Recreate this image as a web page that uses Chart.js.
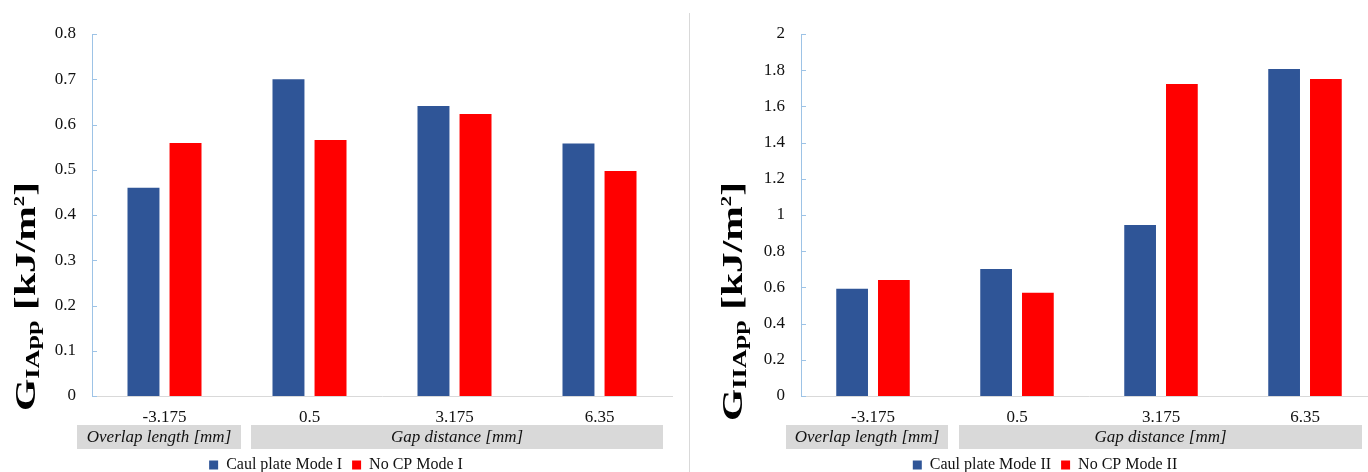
<!DOCTYPE html>
<html>
<head>
<meta charset="utf-8">
<script src="https://cdn.jsdelivr.net/npm/chart.js@4.4.1/dist/chart.umd.min.js"></script>
<style>
  html, body { margin: 0; padding: 0; background: #fff; overflow: hidden; width: 1368px; height: 472px; }
  #wrap { position: relative; width: 1368px; height: 472px; overflow: hidden; }
  #leftBox { position: absolute; left: 0; top: 0; }
  #rightBox { position: absolute; left: 690px; top: 0; }
  #divider { position: absolute; left: 689px; top: 13px; width: 1px; height: 459px; background: #d9d9d9; }
</style>
</head>
<body>
<div id="wrap">
  <div id="leftBox"><canvas id="modeI" width="690" height="483"></canvas></div>
  <div id="divider"></div>
  <div id="rightBox"><canvas id="modeII" width="700" height="483"></canvas></div>
</div>
<script>
// categories and groups (shared by both charts)
var categories = ['-3.175', '0.5', '3.175', '6.35'];
var groupNames = ['Overlap length [mm]', 'Gap distance [mm]'];
var groupFirst = [0, 1];
var groupLast = [0, 3];

// Mode I values, kJ/m2
var modeICaul = [0.46, 0.70, 0.641, 0.558];
var modeINoCP = [0.559, 0.566, 0.623, 0.497];
var modeITicks = ['0', '0.1', '0.2', '0.3', '0.4', '0.5', '0.6', '0.7', '0.8'];

// Mode II values, kJ/m2
var modeIICaul = [0.593, 0.702, 0.945, 1.807];
var modeIINoCP = [0.641, 0.571, 1.724, 1.751];
var modeIITicks = ['0', '0.2', '0.4', '0.6', '0.8', '1', '1.2', '1.4', '1.6', '1.8', '2'];

var BLUE = '#2F5597';
var RED = '#FF0000';
var AXIS_BLUE = '#9DC3E6';
var SERIF = '"Liberation Serif", "Times New Roman", serif';

Chart.defaults.font.family = SERIF;
Chart.defaults.color = '#111';

// y title with sub/superscript, inside tick marks, grey category group boxes
var excelDecor = {
    id: 'excelDecor',
    afterDraw: function(chart, args, opts) {
        var ctx = chart.ctx;
        var area = chart.chartArea;
        var xs = chart.scales.x;
        var ys = chart.scales.y;
        ctx.save();

        // short tick marks pointing into the plot
        ctx.strokeStyle = AXIS_BLUE;
        ctx.lineWidth = 1;
        ys.ticks.forEach(function(t) {
            var py = Math.round(ys.getPixelForValue(t.value)) + 0.5;
            ctx.beginPath();
            ctx.moveTo(area.left, py);
            ctx.lineTo(area.left + 5, py);
            ctx.stroke();
        });

        // group label boxes under the tick labels
        var seg = xs.width / categories.length;
        ctx.font = 'italic 17px ' + SERIF;
        ctx.textAlign = 'center';
        ctx.textBaseline = 'middle';
        for (var g = 0; g < groupNames.length; g++) {
            var left = xs.getPixelForValue(groupFirst[g]) - seg / 2 + opts.insets[g][0];
            var right = xs.getPixelForValue(groupLast[g]) + seg / 2 + opts.insets[g][1];
            var top = area.bottom + 29;
            ctx.fillStyle = '#d9d9d9';
            ctx.fillRect(left, top, right - left, 24);
            ctx.fillStyle = '#111';
            ctx.fillText(groupNames[g], (left + right) / 2, top + 12.5);
        }

        // rotated axis title, stretched along its length like the original
        var parts = opts.title;
        var total = 0;
        parts.forEach(function(p) {
            ctx.font = 'bold ' + p.size + 'px ' + SERIF;
            p.w = ctx.measureText(p.text).width;
            total += p.w;
        });
        ctx.translate(opts.titleX, opts.titleY);
        ctx.rotate(-Math.PI / 2);
        ctx.scale(opts.titleLength / total, 1);
        ctx.textAlign = 'left';
        ctx.textBaseline = 'alphabetic';
        ctx.fillStyle = '#000';
        var cx = 0;
        parts.forEach(function(p) {
            ctx.font = 'bold ' + p.size + 'px ' + SERIF;
            ctx.fillText(p.text, cx, p.dy);
            cx += p.w;
        });
        ctx.restore();
    }
};

function makeChart(id, caul, nocp, names, maxY, step, tickLabels, pad, yWidth, decor) {
    return new Chart(document.getElementById(id), {
        type: 'bar',
        data: {
            labels: categories,
            datasets: [
                { label: names[0], data: caul, backgroundColor: BLUE, borderWidth: 0,
                  categoryPercentage: 0.58, barPercentage: 0.76 },
                { label: names[1], data: nocp, backgroundColor: RED, borderWidth: 0,
                  categoryPercentage: 0.58, barPercentage: 0.76 }
            ]
        },
        options: {
            responsive: false,
            animation: false,
            events: [],
            layout: { padding: pad },
            scales: {
                x: {
                    grid: { display: false, drawTicks: false },
                    border: { display: true, color: '#d9d9d9', width: 1 },
                    ticks: { font: { size: 17 }, color: '#111', padding: 11 },
                    afterFit: function(s) { s.height = 51; }
                },
                y: {
                    min: 0,
                    max: maxY,
                    grid: { display: false, drawTicks: false },
                    border: { display: true, color: AXIS_BLUE, width: 1 },
                    ticks: {
                        stepSize: step,
                        padding: 16,
                        font: { size: 17 },
                        color: '#111',
                        callback: function(v, i) { return tickLabels[i]; }
                    },
                    afterFit: function(s) { s.width = yWidth; }
                }
            },
            plugins: {
                legend: {
                    position: 'bottom',
                    labels: { boxWidth: 9, boxHeight: 9, padding: 10, color: '#111', font: { size: 16 } }
                },
                tooltip: { enabled: false },
                excelDecor: decor
            }
        },
        plugins: [excelDecor]
    });
}

makeChart('modeI', modeICaul, modeINoCP, ['Caul plate Mode I', 'No CP Mode I'],
    0.8, 0.1, modeITicks, { left: 0, right: 18, top: 34, bottom: 0 }, 92, {
        insets: [[-15, 4], [14, -9]],
        titleX: 35, titleY: 411, titleLength: 229,
        title: [
            { text: 'G', size: 30, dy: 0 },
            { text: 'IApp', size: 19, dy: 4 },
            { text: ' [kJ/m', size: 30, dy: 0 },
            { text: '2', size: 15, dy: -11 },
            { text: ']', size: 30, dy: 0 }
        ]
    });

makeChart('modeII', modeIICaul, modeIINoCP, ['Caul plate Mode II', 'No CP Mode II'],
    2, 0.2, modeIITicks, { left: 23, right: 13, top: 34, bottom: 0 }, 88, {
        insets: [[-15, 3], [14, -15]],
        titleX: 52, titleY: 421, titleLength: 239,
        title: [
            { text: 'G', size: 30, dy: 0 },
            { text: 'IIApp', size: 19, dy: 4 },
            { text: ' [kJ/m', size: 30, dy: 0 },
            { text: '2', size: 15, dy: -11 },
            { text: ']', size: 30, dy: 0 }
        ]
    });
</script>
</body>
</html>
